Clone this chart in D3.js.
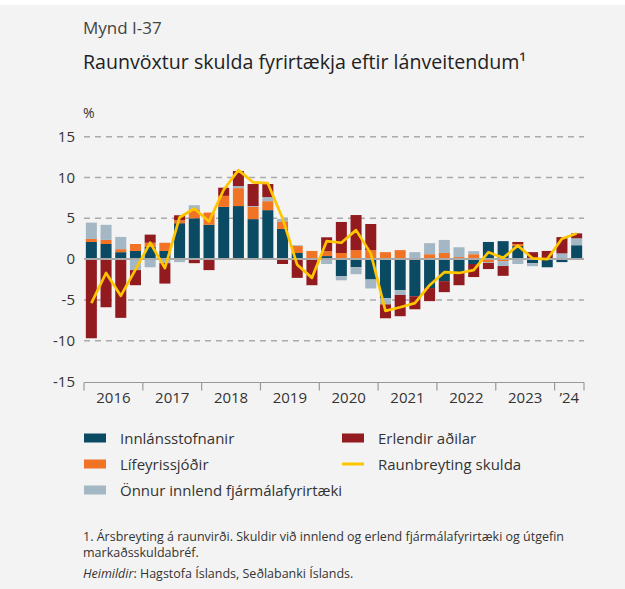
<!DOCTYPE html>
<html><head><meta charset="utf-8">
<script src="https://cdn.jsdelivr.net/npm/d3@7"></script>
<style>
body{margin:0;background:#fff;}
svg text{font-family:"Open Sans","Noto Sans",sans-serif;}
</style></head>
<body><svg id="c" width="625" height="589"></svg>
<script>
const quarters = ["2016Q1","2016Q2","2016Q3","2016Q4","2017Q1","2017Q2","2017Q3","2017Q4","2018Q1","2018Q2","2018Q3","2018Q4","2019Q1","2019Q2","2019Q3","2019Q4","2020Q1","2020Q2","2020Q3","2020Q4","2021Q1","2021Q2","2021Q3","2021Q4","2022Q1","2022Q2","2022Q3","2022Q4","2023Q1","2023Q2","2023Q3","2023Q4","2024Q1","2024Q2"];
const innlan = [2.1,1.85,0.85,1.0,1.5,1.0,4.4,5.0,4.2,6.4,6.5,4.9,6.0,3.7,0.75,0,0.37,-2.1,-1.0,-2.5,-4.8,-3.8,-4.55,-3.55,-2.7,-1.7,-0.6,2.1,2.2,1.6,-0.5,-1.0,-0.37,1.7];
const lifeyr = [0.37,0.5,0.37,0.85,0.5,1.0,0.37,1.1,1.5,1.35,2.2,1.5,1.1,0.85,0.85,1.0,0.6,0.75,1.1,1.1,0.85,1.1,0,0.6,0.75,0.25,0.6,-0.37,-0.25,0.25,0,0,0.1,0];
const onnur = [2.0,1.85,1.5,-1.35,-1.0,-0.5,-0.37,0.5,0,0,0.25,0.1,0.5,0.37,0.1,0,-0.6,-0.5,-0.85,-1.1,-0.75,-0.6,0.85,1.35,1.6,1.2,0.37,-0.1,-0.6,-0.6,-0.37,0,0.6,0.85];
const erlend = [-9.7,-5.9,-7.2,-1.85,1.0,-2.5,0.6,-0.5,-1.35,1.0,1.85,2.7,1.6,-0.6,-2.3,-3.2,1.7,3.8,4.3,3.2,-1.7,-2.6,-1.6,-1.6,-1.35,-1.5,-1.6,-0.75,-1.2,0.25,0.85,1.0,2.0,0.6];
const raunbreyting = [-5.4,-1.7,-4.5,-1.3,2.0,-1.1,5.1,6.2,4.6,8.5,10.9,9.4,9.3,5.0,-0.7,-2.3,2.2,2.0,3.55,0.7,-6.35,-5.9,-5.4,-3.2,-1.6,-1.7,-1.35,0.85,0.15,1.65,0.1,0.0,2.5,3.15];
const yTicks = [15,10,5,0,-5,-10,-15];
const yearLabels = ["2016","2017","2018","2019","2020","2021","2022","2023","\u201924"];
const seriesNames = ["Innlánsstofnanir","Lífeyrissjóðir","Önnur innlend fjármálafyrirtæki","Erlendir aðilar"];
const seriesColors = ["#0b4a63","#f07326","#a4b7c5","#921b1f"];
const lineName = "Raunbreyting skulda";
const lineColor = "#ffc600";

const svg = d3.select("#c");
svg.append("rect").attr("x",0).attr("y",5).attr("width",625).attr("height",584).attr("fill","#f3f3f3");

svg.append("text").attr("x",83).attr("y",34).attr("font-size",17).attr("fill","#444").text("Mynd I-37");
svg.append("text").attr("x",83).attr("y",69).attr("font-size",19.6).attr("fill","#222").text("Raunvöxtur skulda fyrirtækja eftir lánveitendum¹");
svg.append("text").attr("x",83).attr("y",118).attr("font-size",14).attr("fill","#333").text("%");

const x0 = 84, x1 = 584;
const x = d3.scaleBand().domain(quarters).range([x0,x1]).paddingInner(0.25).paddingOuter(0.125);
const y = d3.scaleLinear().domain([-15,15]).range([381.5,136.7]);

// grid
const g = svg.append("g");
yTicks.filter(t=>t!==0 && t!==-15).forEach(t=>{
  g.append("line").attr("x1",x0).attr("x2",x1).attr("y1",y(t)).attr("y2",y(t))
   .attr("stroke","#aaa").attr("stroke-width",1.5).attr("stroke-dasharray","6,5");
});
yTicks.forEach(t=>{
  g.append("text").attr("x",75).attr("y",y(t)+5).attr("text-anchor","end").attr("font-size",15).attr("fill","#333").text(t);
});

// stack
const table = quarters.map((q,i)=>({q, s0:innlan[i], s1:lifeyr[i], s2:onnur[i], s3:erlend[i]}));
const keys = ["s0","s1","s2","s3"];
const stack = d3.stack().keys(keys).offset(d3.stackOffsetDiverging)(table);
stack.forEach((layer,k)=>{
  svg.append("g").selectAll("rect").data(layer).join("rect")
    .attr("x",d=>x(d.data.q)).attr("width",x.bandwidth())
    .attr("y",d=>y(Math.max(d[0],d[1]))).attr("height",d=>Math.abs(y(d[0])-y(d[1])))
    .attr("fill",seriesColors[k]);
});

// zero line
svg.append("line").attr("x1",x0).attr("x2",x1).attr("y1",y(0)).attr("y2",y(0)).attr("stroke","#aaa").attr("stroke-width",2);

// line
const line = d3.line().x((d,i)=>x(quarters[i])+x.bandwidth()/2).y(d=>y(d));
svg.append("path").datum(raunbreyting).attr("d",line).attr("fill","none").attr("stroke",lineColor).attr("stroke-width",2.7).attr("stroke-linejoin","round");

// bottom axis
const yb = y(-15)+1;
svg.append("line").attr("x1",x0).attr("x2",x1).attr("y1",yb).attr("y2",yb).attr("stroke","#999").attr("stroke-width",1.2);
const step = x.step();
const bounds = [];
for(let i=0;i<quarters.length;i+=4) bounds.push(x0 + i*step);
bounds.push(x1);
bounds.forEach(b=>svg.append("line").attr("x1",b).attr("x2",b).attr("y1",yb).attr("y2",yb+8).attr("stroke","#999").attr("stroke-width",1.2));
yearLabels.forEach((lab,i)=>{
  const a = bounds[i], b = bounds[i+1];
  svg.append("text").attr("x",(a+b)/2).attr("y",403).attr("text-anchor","middle").attr("font-size",15).attr("fill","#333").text(lab);
});

// legend
const leg = [
  {n:seriesNames[0],c:seriesColors[0],x:84,y:438,t:"r"},
  {n:seriesNames[1],c:seriesColors[1],x:84,y:464,t:"r"},
  {n:seriesNames[2],c:seriesColors[2],x:84,y:490,t:"r"},
  {n:seriesNames[3],c:seriesColors[3],x:342,y:438,t:"r"},
  {n:lineName,c:lineColor,x:342,y:464,t:"l"}
];
leg.forEach(l=>{
  if(l.t==="r") svg.append("rect").attr("x",l.x).attr("y",l.y-4.5).attr("width",22).attr("height",9).attr("fill",l.c);
  else svg.append("rect").attr("x",l.x).attr("y",l.y-1.5).attr("width",22).attr("height",3).attr("fill",l.c);
  svg.append("text").attr("x",l.x+36).attr("y",l.y+5.5).attr("font-size",15).attr("fill","#333").text(l.n);
});

// footnote
svg.append("text").attr("x",83).attr("y",541).attr("font-size",12.5).attr("fill","#333").text("1. Ársbreyting á raunvirði. Skuldir við innlend og erlend fjármálafyrirtæki og útgefin");
svg.append("text").attr("x",83).attr("y",557).attr("font-size",12.5).attr("fill","#333").text("markaðsskuldabréf.");
const src = svg.append("text").attr("x",83).attr("y",578).attr("font-size",12.5).attr("fill","#333");
src.append("tspan").attr("font-style","italic").text("Heimildir");
src.append("tspan").text(": Hagstofa Íslands, Seðlabanki Íslands.");
</script></body></html>
